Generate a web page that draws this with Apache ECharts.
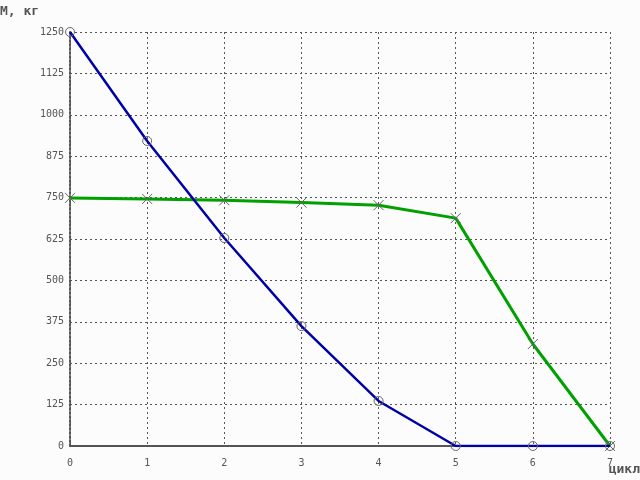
<!DOCTYPE html>
<html>
<head>
<meta charset="utf-8">
<script src="https://cdn.jsdelivr.net/npm/echarts@6/dist/echarts.min.js"></script>
<style>
  html, body { margin: 0; padding: 0; background: #fcfcfc; }
  #chart { width: 640px; height: 480px; }
</style>
</head>
<body>
<div id="chart"></div>
<script>
// cycle number on x, mass in kg on y
const cycles = [0, 1, 2, 3, 4, 5, 6, 7];
const massBlue = [1250, 921, 628, 362, 136, 0, 0, 0];
const massGreen = [749, 746, 742, 735, 727, 688, 308, 0];

const gridColor = '#555';
const font = 'DejaVu Sans Mono';

let chart = echarts.init(document.getElementById('chart'));

const option = {
    backgroundColor: '#fcfcfc',
    animation: false,
    grid: { left: 70, right: 30, top: 32, bottom: 34 },
    xAxis: {
        type: 'value',
        min: 0,
        max: 7,
        interval: 1,
        axisLine: { show: true, lineStyle: { color: gridColor, width: 2 } },
        axisTick: { show: false },
        axisLabel: { color: '#555', fontFamily: font, fontSize: 10, margin: 12 },
        splitLine: { show: true, lineStyle: { color: gridColor, type: [2, 3], width: 1 } }
    },
    yAxis: {
        type: 'value',
        min: 0,
        max: 1250,
        interval: 125,
        axisLine: { show: true, lineStyle: { color: gridColor, type: [2, 2], width: 2 } },
        axisTick: { show: false },
        axisLabel: {
            color: '#555', fontFamily: font, fontSize: 10, margin: 6,
            verticalAlign: 'middle', padding: [0, 0, 3, 0],
            formatter: v => String(v)
        },
        splitLine: { show: true, lineStyle: { color: gridColor, type: [2, 3], width: 1 } }
    },
    graphic: [
        { type: 'text', left: 0, top: 5, style: { text: 'М, кг', fill: '#555', font: 'bold 13px ' + font } },
        { type: 'text', right: 0, top: 463, style: { text: 'цикл', fill: '#555', font: 'bold 13px ' + font } }
    ],
    series: [
        {
            name: 'blue',
            type: 'line',
            data: cycles.map((c, i) => [c, massBlue[i]]),
            lineStyle: { color: '#0000a8', width: 2.5 },
            symbol: 'circle',
            symbolSize: 9,
            itemStyle: { color: 'transparent', borderColor: '#666', borderWidth: 1 },
            z: 3
        },
        {
            name: 'green',
            type: 'line',
            data: cycles.map((c, i) => [c, massGreen[i]]),
            lineStyle: { color: '#00a000', width: 3 },
            symbol: 'path://M0,0L10,10M10,0L0,10',
            symbolSize: 10,
            itemStyle: { color: 'transparent', borderColor: '#666', borderWidth: 1 },
            z: 2
        }
    ]
};

chart.setOption(option);
window.addEventListener('resize', () => {
    chart.resize();
});
</script>
</body>
</html>
